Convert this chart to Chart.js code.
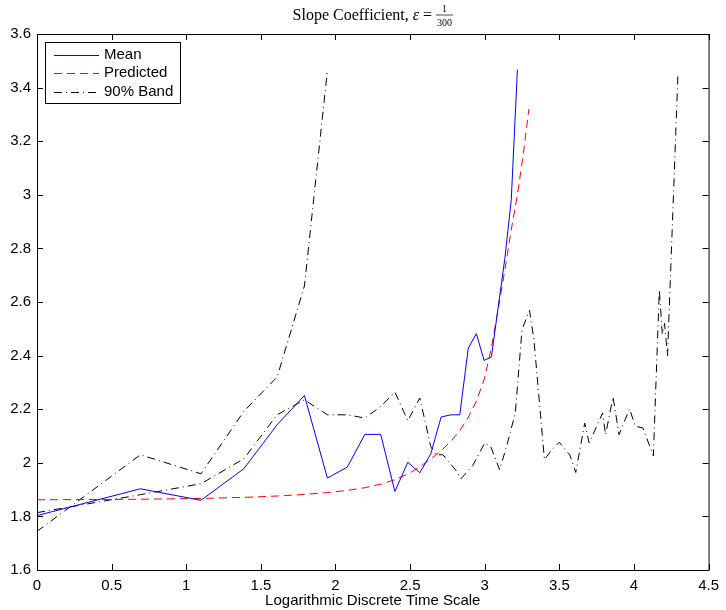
<!DOCTYPE html>
<html>
<head>
<meta charset="utf-8">
<script src="https://cdn.jsdelivr.net/npm/chart.js@4"></script>
<style>
  html, body { margin: 0; padding: 0; background: #fff; }
  #wrap { width: 726px; height: 610px; position: relative; }
</style>
</head>
<body>
<div id="wrap"><canvas id="slopeChart"></canvas></div>
<script>
// log time (x) and slope values
const meanX = [0, 0.693, 1.099, 1.386, 1.609, 1.792, 1.946, 2.079, 2.197, 2.303, 2.398, 2.485, 2.565,
  2.639, 2.708, 2.773, 2.833, 2.89, 2.944, 2.996, 3.045, 3.091, 3.135, 3.178, 3.219];
const meanY = [1.803, 1.903, 1.86, 1.978, 2.142, 2.251, 1.943, 1.984, 2.106, 2.106, 1.893, 2.002, 1.963,
  2.034, 2.171, 2.179, 2.179, 2.428, 2.482, 2.382, 2.395, 2.584, 2.763, 2.982, 3.467];

const predX = [0, 0.693, 1.099, 1.386, 1.609, 1.792, 1.946, 2.079, 2.197, 2.303, 2.398, 2.485, 2.565,
  2.639, 2.708, 2.773, 2.833, 2.89, 2.944, 2.996, 3.045, 3.091, 3.135, 3.178, 3.219, 3.258, 3.296];
const predY = [1.862, 1.864, 1.867, 1.871, 1.876, 1.882, 1.889, 1.897, 1.907, 1.92, 1.937, 1.958, 1.985,
  2.015, 2.045, 2.08, 2.12, 2.17, 2.23, 2.31, 2.43, 2.575, 2.72, 2.87, 3.0, 3.15, 3.32];

const upperX = [0, 0.693, 1.099, 1.386, 1.609, 1.792, 1.946];
const upperY = [1.744, 2.03, 1.959, 2.192, 2.32, 2.66, 3.464];

const lowerX = [0, 0.693, 1.099, 1.386, 1.609, 1.792, 1.946, 2.079, 2.197, 2.303, 2.398, 2.485, 2.565,
  2.639, 2.674, 2.72, 2.81, 2.84, 2.92, 3.0, 3.04, 3.1, 3.15, 3.205, 3.25, 3.3, 3.33, 3.4, 3.45, 3.5,
  3.54, 3.57, 3.61, 3.67, 3.7, 3.79, 3.81, 3.86, 3.9, 3.97, 4.01, 4.06, 4.13, 4.17, 4.19, 4.205, 4.225, 4.295];
const lowerY = [1.814, 1.881, 1.922, 2.015, 2.179, 2.235, 2.179, 2.179, 2.167, 2.21, 2.264, 2.157, 2.242,
  2.06, 2.03, 2.03, 1.97, 1.94, 1.99, 2.074, 2.061, 1.974, 2.068, 2.186, 2.497, 2.569, 2.459, 2.012, 2.049, 2.077,
  2.049, 2.03, 1.964, 2.148, 2.074, 2.186, 2.105, 2.246, 2.105, 2.201, 2.136, 2.13, 2.026, 2.646, 2.48, 2.52, 2.40, 3.454];

const xTicks = [0, 0.5, 1, 1.5, 2, 2.5, 3, 3.5, 4, 4.5];
const yTicks = [1.6, 1.8, 2, 2.2, 2.4, 2.6, 2.8, 3, 3.2, 3.4, 3.6];

const legendItems = [
  { label: "Mean", color: "#0000ff", dash: [] },
  { label: "Predicted", color: "#ff0000", dash: [8, 5] },
  { label: "90% Band", color: "#000000", dash: [8, 4, 1, 4] }
];

const sansFont = "'Liberation Sans', Arial, Helvetica, sans-serif";
const serifFont = "'Liberation Serif', 'Times New Roman', serif";

const pts = (xs, ys) => xs.map((x, i) => ({ x, y: ys[i] }));

// matlab-ish frame, inward ticks, boxed legend and latex-style title
const matlabBox = {
  id: "matlabBox",
  afterDraw(chart) {
    const { ctx, chartArea: a, scales } = chart;
    const tl = 6;
    ctx.save();
    ctx.strokeStyle = "#000";
    ctx.lineWidth = 1;
    ctx.setLineDash([]);
    ctx.strokeRect(a.left + 0.5, a.top + 0.5, a.right - a.left, a.bottom - a.top);
    ctx.beginPath();
    xTicks.forEach(v => {
      const px = Math.round(scales.x.getPixelForValue(v)) + 0.5;
      ctx.moveTo(px, a.bottom); ctx.lineTo(px, a.bottom - tl);
      ctx.moveTo(px, a.top); ctx.lineTo(px, a.top + tl);
    });
    yTicks.forEach(v => {
      const py = Math.round(scales.y.getPixelForValue(v)) + 0.5;
      ctx.moveTo(a.left, py); ctx.lineTo(a.left + tl, py);
      ctx.moveTo(a.right, py); ctx.lineTo(a.right - tl, py);
    });
    ctx.stroke();

    // legend
    const lx = 45, ly = 42, lw = 135, lh = 61;
    ctx.fillStyle = "#fff";
    ctx.fillRect(lx, ly, lw, lh);
    ctx.strokeRect(lx + 0.5, ly + 0.5, lw, lh);
    ctx.font = "15px " + sansFont;
    ctx.textBaseline = "middle";
    ctx.textAlign = "left";
    legendItems.forEach((it, i) => {
      const y = ly + 12.5 + i * 18.5;
      ctx.beginPath();
      ctx.strokeStyle = it.color;
      ctx.setLineDash(it.dash);
      ctx.moveTo(54, Math.round(y) + 0.5);
      ctx.lineTo(99, Math.round(y) + 0.5);
      ctx.stroke();
      ctx.fillStyle = "#000";
      ctx.fillText(it.label, 104, y);
    });
    ctx.setLineDash([]);

    // title: Slope Coefficient, ε = 1/300
    const part1 = "Slope Coefficient, ";
    const part2 = "\u03b5";
    const part3 = " = ";
    const fs = 16;
    ctx.font = fs + "px " + serifFont;
    const w1 = ctx.measureText(part1).width;
    const w3 = ctx.measureText(part3).width;
    ctx.font = "italic " + fs + "px " + serifFont;
    const w2 = ctx.measureText(part2).width;
    ctx.font = "10px " + serifFont;
    const wf = ctx.measureText("300").width + 2;
    const total = w1 + w2 + w3 + wf;
    let x = (a.left + a.right) / 2 - total / 2;
    const base = 20;
    ctx.textBaseline = "alphabetic";
    ctx.fillStyle = "#000";
    ctx.font = fs + "px " + serifFont;
    ctx.fillText(part1, x, base); x += w1;
    ctx.font = "italic " + fs + "px " + serifFont;
    ctx.fillText(part2, x, base); x += w2;
    ctx.font = fs + "px " + serifFont;
    ctx.fillText(part3, x, base); x += w3;
    ctx.font = "10px " + serifFont;
    ctx.textAlign = "center";
    const fc = x + wf / 2;
    ctx.fillText("1", fc, 12);
    ctx.fillText("300", fc, 26);
    ctx.beginPath();
    ctx.strokeStyle = "#000";
    ctx.lineWidth = 0.7;
    ctx.moveTo(x, 15);
    ctx.lineTo(x + wf, 15);
    ctx.stroke();
    ctx.restore();
  }
};

const lineSet = (label, data, color, dash) => ({
  label, data,
  borderColor: color,
  backgroundColor: color,
  borderWidth: 1,
  borderDash: dash,
  pointRadius: 0,
  tension: 0,
  fill: false
});

new Chart(document.getElementById("slopeChart"), {
  type: "line",
  data: {
    datasets: [
      lineSet("Mean", pts(meanX, meanY), "#0000ff", []),
      lineSet("Predicted", pts(predX, predY), "#ff0000", [8, 5]),
      lineSet("90% Band", pts(upperX, upperY), "#000000", [8, 4, 1, 4]),
      lineSet("90% Band lower", pts(lowerX, lowerY), "#000000", [8, 4, 1, 4])
    ]
  },
  options: {
    responsive: true,
    maintainAspectRatio: false,
    animation: false,
    layout: { padding: { top: 34, right: 10, left: 0, bottom: 0 } },
    plugins: {
      legend: { display: false },
      tooltip: { enabled: false }
    },
    scales: {
      x: {
        type: "linear",
        min: 0,
        max: 4.5,
        afterFit: s => { s.height = 40; },
        afterBuildTicks: s => { s.ticks = xTicks.map(v => ({ value: v })); },
        grid: { display: false, drawTicks: false },
        border: { display: false },
        ticks: {
          color: "#000",
          padding: 7,
          maxRotation: 0,
          font: { family: sansFont, size: 15 },
          callback: v => String(Number(v.toFixed(1)))
        },
        title: {
          display: true,
          text: "Logarithmic Discrete Time Scale",
          color: "#000",
          padding: { top: 0, bottom: 0 },
          font: { family: sansFont, size: 15 }
        }
      },
      y: {
        min: 1.6,
        max: 3.6,
        afterFit: s => { s.width = 37; },
        afterBuildTicks: s => { s.ticks = yTicks.map(v => ({ value: v })); },
        grid: { display: false, drawTicks: false },
        border: { display: false },
        ticks: {
          color: "#000",
          padding: 6,
          font: { family: sansFont, size: 15 },
          callback: v => String(Number(v.toFixed(1)))
        }
      }
    }
  },
  plugins: [matlabBox]
});
</script>
</body>
</html>
